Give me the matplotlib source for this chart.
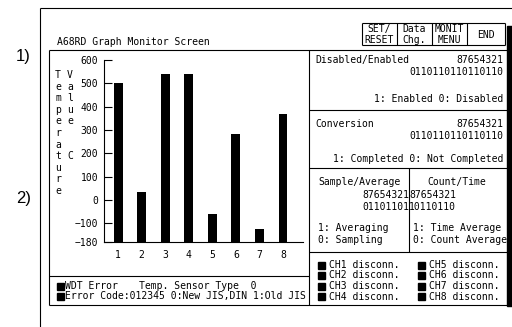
import matplotlib.pyplot as plt
from matplotlib.patches import Rectangle

plt.rcParams['font.family'] = 'DejaVu Sans Mono'
plt.rcParams['font.size'] = 7

# chart values
channels = [1, 2, 3, 4, 5, 6, 7, 8]
temps = [500, 35, 540, 540, -60, 282, -125, 370]
y_min, y_max = -180, 600
y_ticks = [-180, -100, 0, 100, 200, 300, 400, 500, 600]

# screen texts
title = "A68RD Graph Monitor Screen"
buttons = ["SET/\nRESET", "Data\nChg.", "MONIT\nMENU", "END"]
bit_numbers = "87654321"
bit_values = "0110110110110110"
ch_left = ["CH1 disconn.", "CH2 disconn.", "CH3 disconn.", "CH4 disconn."]
ch_right = ["CH5 disconn.", "CH6 disconn.", "CH7 disconn.", "CH8 disconn."]

fig = plt.figure(figsize=(5.12, 3.27), dpi=100)

# whole-screen layer in pixel coords
bg = fig.add_axes([0, 0, 1, 1])
bg.set_xlim(0, 512)
bg.set_ylim(327, 0)
bg.axis('off')


def line(x0, y0, x1, y1, lw=0.8):
    bg.plot([x0, x1], [y0, y1], color='black', lw=lw, solid_capstyle='butt')


def txt(x, y, s, ha='left', **kw):
    bg.text(x, y, s, ha=ha, va='center', color='black', **kw)


def square(x, y):
    bg.add_patch(Rectangle((x, y - 3.5), 7, 7, color='black'))


# outer frame
line(40, 8, 512, 8)
line(40, 8, 40, 327)

# side markers
txt(16, 56, "1)", family='Liberation Sans', fontsize=12)
txt(16, 199, "2)", family='Liberation Sans', fontsize=12)

# title + buttons
txt(57, 42, title)
bx = [362, 397, 432, 467, 505]
line(362, 23, 505, 23)
line(362, 45, 505, 45)
for x in bx:
    line(x, 23, x, 45)
for i, b in enumerate(buttons):
    txt((bx[i] + bx[i + 1]) / 2, 34.5, b, ha='center', linespacing=1.05)

# inner box + shadow
line(49, 50, 507, 50)
line(49, 50, 49, 305)
line(49, 305, 507, 305)
bg.add_patch(Rectangle((507, 26), 5, 280, color='black'))
line(309, 50, 309, 305)
line(49, 276, 309, 276)

# right panel: enabled
txt(315, 60, "Disabled/Enabled")
txt(503, 60, bit_numbers, ha='right')
txt(503, 72, bit_values, ha='right')
txt(503, 99, "1: Enabled 0: Disabled", ha='right')
line(309, 110, 507, 110)

# conversion
txt(315, 124, "Conversion")
txt(503, 124, bit_numbers, ha='right')
txt(503, 136, bit_values, ha='right')
txt(503, 159, "1: Completed 0: Not Completed", ha='right')
line(309, 168, 507, 168)

# sample / average
line(409, 168, 409, 252)
txt(318, 182, "Sample/Average")
txt(427, 182, "Count/Time")
txt(409, 195, bit_numbers, ha='right')
txt(409, 195, bit_numbers, ha='left')
txt(409, 207, bit_values[:8], ha='right')
txt(409, 207, bit_values[8:], ha='left')
txt(318, 228, "1: Averaging")
txt(318, 240, "0: Sampling")
txt(413, 228, "1: Time Average")
txt(413, 240, "0: Count Average")
line(309, 252, 507, 252)

# channel status
rows = [265, 275.5, 286, 296.5]
for y, a, b in zip(rows, ch_left, ch_right):
    square(318, y)
    txt(329, y, a)
    square(418, y)
    txt(429, y, b)

# bottom-left status
square(57, 286)
txt(65, 286, "WDT Error")
txt(139, 286, "Temp. Sensor Type  0")
square(57, 296.5)
txt(65, 296.5, "Error Code:012345 0:New JIS,DIN 1:Old JIS")

# vertical axis titles
bg.text(58, 70, "\n".join("Temperature"), ha='center', va='top', linespacing=1.2)
bg.text(70, 70, "\n".join("Value") + "\n\n\nC", ha='center', va='top', linespacing=1.2)

# bar chart
ax = fig.add_axes([104 / 512, 85 / 327, 199 / 512, 182 / 327])
ax.patch.set_alpha(0)
ax.bar(channels, [t - y_min for t in temps], bottom=y_min, width=0.38, color='black')
ax.set_xlim(0.4, 8.85)
ax.set_ylim(y_min, y_max)
ax.set_xticks(channels)
ax.set_yticks(y_ticks)
for s in ['top', 'right']:
    ax.spines[s].set_visible(False)
for s in ['left', 'bottom']:
    ax.spines[s].set_linewidth(0.8)
ax.tick_params(axis='y', direction='in', length=6, width=0.8, pad=4.3)
ax.tick_params(axis='x', length=0, pad=6)

fig.savefig('out.png', dpi=100)
